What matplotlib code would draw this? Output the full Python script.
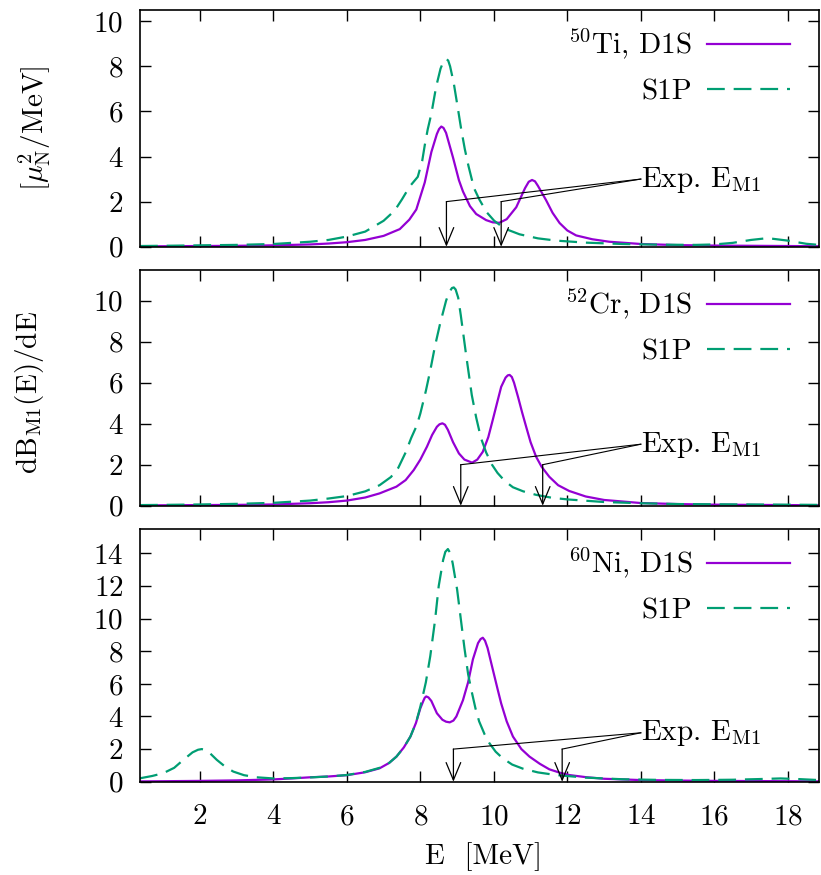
import numpy as np
import matplotlib
matplotlib.use("Agg")
import matplotlib.pyplot as plt

plt.rcParams['font.family'] = 'cmr10'
plt.rcParams['mathtext.fontset'] = 'cm'
plt.rcParams['axes.formatter.use_mathtext'] = True
plt.rcParams['axes.unicode_minus'] = False
plt.rcParams['font.size'] = 21

# --- 50Ti ---
ti_d1s_x = [0.37, 1, 2, 3, 4, 5, 5.5, 6, 6.5, 7, 7.44, 7.7, 7.89, 8.12, 8.3, 8.45, 8.51, 8.57, 8.63, 8.7,
            8.89, 9.05, 9.16, 9.35, 9.52, 9.79, 9.97, 10.15, 10.35, 10.61, 10.85, 10.95, 11.04, 11.12, 11.2,
            11.42, 11.6, 11.79, 12.0, 12.24, 12.68, 13.14, 14, 15, 16, 17, 18, 18.85]
ti_d1s_y = [0.02, 0.02, 0.03, 0.04, 0.06, 0.1, 0.14, 0.2, 0.3, 0.48, 0.78, 1.2, 1.65, 2.85, 4.2, 5.0, 5.22, 5.33, 5.27, 5.05,
            3.95, 2.95, 2.45, 1.8, 1.45, 1.18, 1.08, 1.06, 1.22, 1.75, 2.6, 2.88, 2.96, 2.9, 2.7,
            2.07, 1.5, 1.05, 0.72, 0.5, 0.33, 0.22, 0.12, 0.07, 0.05, 0.04, 0.03, 0.02]
ti_s1p_x = [0.37, 1, 2, 3, 4, 5, 5.5, 6, 6.5, 7, 7.3, 7.5, 7.71, 7.93, 8.05, 8.12, 8.2, 8.3, 8.43, 8.55, 8.63, 8.71,
            8.76, 8.81, 8.91, 9.01, 9.11, 9.21, 9.31, 9.46, 9.61, 9.81, 10.01, 10.3, 10.7, 11.2, 11.7,
            12.5, 13.5, 14.5, 15.5, 16, 16.5, 17, 17.45, 18, 18.5, 18.85]
ti_s1p_y = [0.03, 0.04, 0.06, 0.08, 0.12, 0.22, 0.3, 0.45, 0.67, 1.15, 1.6, 2.1, 2.67, 3.1, 3.8, 4.5, 5.2, 5.9, 7.1, 7.9, 8.22, 8.33,
            8.25, 8.0, 7.25, 6.25, 5.23, 4.33, 3.58, 2.6, 2.08, 1.52, 1.15, 0.8, 0.55, 0.37, 0.27,
            0.18, 0.12, 0.09, 0.08, 0.1, 0.17, 0.3, 0.38, 0.27, 0.13, 0.08]

# --- 52Cr ---
cr_d1s_x = [0.37, 1, 2, 3, 4, 5, 5.5, 6, 6.5, 6.89, 7.35, 7.6, 7.82, 8.0, 8.18, 8.32, 8.45, 8.52, 8.6, 8.67, 8.75,
            8.89, 9.05, 9.2, 9.41, 9.55, 9.7, 9.85, 9.97, 10.1, 10.2, 10.32, 10.38, 10.43, 10.49, 10.55, 10.66,
            10.77, 10.88, 11.0, 11.15, 11.3, 11.51, 11.75, 12.05, 12.5, 13, 14, 15, 16, 17, 18, 18.85]
cr_d1s_y = [0.02, 0.02, 0.03, 0.04, 0.06, 0.12, 0.17, 0.25, 0.4, 0.6, 0.93, 1.25, 1.74, 2.25, 2.88, 3.45, 3.85, 3.97, 4.02, 3.95, 3.7,
            3.1, 2.55, 2.25, 2.1, 2.25, 2.63, 3.35, 4.18, 5.1, 5.8, 6.25, 6.36, 6.38, 6.28, 6.0, 5.3,
            4.55, 3.85, 3.1, 2.39, 1.9, 1.41, 1.0, 0.72, 0.45, 0.28, 0.13, 0.08, 0.05, 0.04, 0.03, 0.02]
cr_s1p_x = [0.37, 1, 2, 3, 4, 5, 5.5, 6, 6.5, 6.89, 7.2, 7.4, 7.6, 7.75, 7.9, 8.0, 8.15, 8.27, 8.4, 8.54,
            8.7, 8.78, 8.86, 8.91, 8.96, 9.03, 9.1, 9.25, 9.4, 9.52, 9.65, 9.79, 9.95, 10.1, 10.3, 10.52, 10.8,
            11.15, 11.6, 12.05, 13, 14, 15, 16, 17, 18, 18.85]
cr_s1p_y = [0.03, 0.04, 0.06, 0.09, 0.14, 0.25, 0.35, 0.47, 0.7, 1.0, 1.4, 1.85, 2.6, 3.3, 3.9, 4.5, 5.6, 6.6, 7.8, 8.9,
            10.0, 10.4, 10.62, 10.65, 10.55, 10.15, 9.3, 7.3, 5.4, 4.3, 3.3, 2.6, 2.0, 1.6, 1.2, 0.9, 0.7,
            0.53, 0.38, 0.3, 0.18, 0.12, 0.08, 0.07, 0.06, 0.05, 0.04]

# --- 60Ni ---
ni_d1s_x = [0.37, 1, 2, 3, 4, 4.5, 5, 5.5, 6, 6.5, 6.89, 7.15, 7.35, 7.55, 7.73, 7.88, 8.0, 8.08, 8.12, 8.16, 8.22,
            8.3, 8.45, 8.6, 8.7, 8.8, 8.9, 8.98, 9.16, 9.3, 9.43, 9.57, 9.64, 9.7, 9.76, 9.83, 9.97, 10.1, 10.2, 10.35,
            10.52, 10.75, 10.97, 11.25, 11.51, 11.8, 12.05, 12.5, 13, 14, 15, 16, 17, 18, 18.85]
ni_d1s_y = [0.02, 0.03, 0.05, 0.08, 0.14, 0.2, 0.27, 0.32, 0.4, 0.58, 0.82, 1.15, 1.54, 2.1, 2.77, 3.6, 4.5, 4.95, 5.15, 5.23, 5.17,
            4.95, 4.2, 3.8, 3.68, 3.64, 3.75, 4.0, 5.0, 6.1, 7.5, 8.5, 8.75, 8.83, 8.65, 8.2, 6.9, 5.7, 4.8, 3.7,
            2.77, 2.0, 1.54, 1.1, 0.76, 0.55, 0.41, 0.28, 0.18, 0.1, 0.07, 0.05, 0.04, 0.03, 0.02]
ni_s1p_x = [0.37, 0.7, 1.0, 1.3, 1.55, 1.8, 1.95, 2.05, 2.15, 2.25, 2.46, 2.7, 2.91, 3.2, 3.54, 4.0, 4.5, 5.08, 5.5,
            6.0, 6.5, 6.89, 7.15, 7.35, 7.55, 7.73, 7.88, 8.0, 8.15, 8.27, 8.4, 8.5, 8.62, 8.68, 8.75, 8.82,
            8.88, 9.0, 9.1, 9.2, 9.3, 9.38, 9.5, 9.6, 9.75, 9.88, 10.05, 10.24, 10.5, 10.79, 11.2,
            11.69, 12.5, 13.5, 14.5, 15.5, 16.5, 17.2, 17.8, 18.3, 18.85]
ni_s1p_y = [0.21, 0.35, 0.52, 0.85, 1.34, 1.8, 1.96, 2.0, 1.95, 1.8, 1.34, 0.9, 0.62, 0.4, 0.27, 0.2, 0.22, 0.27, 0.32,
            0.41, 0.6, 0.85, 1.15, 1.54, 2.1, 2.77, 3.6, 4.6, 6.1, 7.7, 9.9, 12.0, 13.6, 14.1, 14.27, 14.0,
            13.4, 11.8, 10.0, 8.2, 6.6, 5.7, 4.5, 3.7, 2.9, 2.36, 1.84, 1.44, 1.05, 0.8, 0.57,
            0.41, 0.25, 0.15, 0.11, 0.1, 0.12, 0.16, 0.2, 0.16, 0.1]

nuclei = [r'$^{50}$Ti, D1S', r'$^{52}$Cr, D1S', r'$^{60}$Ni, D1S']
exp_em1 = [[8.71, 10.2], [9.1, 11.33], [8.9, 11.86]]
ylims = [10.5, 11.5, 15.5]
yticks = [np.arange(0, 11, 2), np.arange(0, 11, 2), np.arange(0, 15, 2)]

curves = [(ti_d1s_x, ti_d1s_y, ti_s1p_x, ti_s1p_y),
          (cr_d1s_x, cr_d1s_y, cr_s1p_x, cr_s1p_y),
          (ni_d1s_x, ni_d1s_y, ni_s1p_x, ni_s1p_y)]

purple = '#9400d3'
green = '#009e73'

W, H = 821.0, 875.0
left, right = 140 / W, 819 / W
boxes = [(10, 246.7), (270, 505.7), (529, 781.7)]  # top, bottom in pixels

fig = plt.figure(figsize=(8.21, 8.75), dpi=100)

for i in range(3):
    top, bot = boxes[i]
    hpx = bot - top
    ax = fig.add_axes([left, 1 - bot / H, right - left, hpx / H])
    dx, dy, sx, sy = curves[i]
    ax.plot(dx, dy, color=purple, lw=1.6, label=nuclei[i], solid_joinstyle='round')
    ax.plot(sx, sy, color=green, lw=1.6, ls=(0, (8, 4)), label='S1P')

    # experimental M1 energies
    for xe in exp_em1[i]:
        ax.plot([14.0, xe, xe], [3.0, 2.0, 2.0], color='black', lw=0.8)
        ax.annotate('', xy=(xe, 0), xytext=(xe, 2.0),
                    arrowprops=dict(arrowstyle='->,head_length=0.6,head_width=0.25',
                                    color='black', lw=0.9, shrinkA=0, shrinkB=0))
    ax.annotate(r'Exp. E$_{\rm M1}$', xy=(14.0, 3.0), xytext=(0, -5.5),
                textcoords='offset points', ha='left', va='baseline')

    ax.set_xlim(0.37, 18.85)
    ax.set_ylim(0, ylims[i])
    ax.set_xticks(np.arange(2, 19, 2))
    ax.set_yticks(yticks[i])
    ax.tick_params(direction='in', top=True, right=True, length=8, width=1.0)
    ax.tick_params(axis='y', pad=12)
    ax.tick_params(axis='x', pad=16)
    if i < 2:
        ax.set_xticklabels([])
    for s in ax.spines.values():
        s.set_linewidth(1.2)

    ax.legend(loc='upper right', bbox_to_anchor=((790 - 140) / 679.0, 1 - 17 / hpx),
              frameon=False, markerfirst=False, handlelength=2.85,
              handletextpad=0.5, labelspacing=0.6, borderpad=0, borderaxespad=0)

fig.text(35 / W, 1 - 128 / H, r'[$\mu^2_{\rm N}$/MeV]', rotation=90, ha='center', va='center')
fig.text(30 / W, 1 - 392 / H, r'dB$_{\rm M1}$(E)/dE', rotation=90, ha='center', va='center')
fig.text(483 / W, 1 - 857 / H, 'E  [MeV]', ha='center', va='center')

plt.savefig('out.png', dpi=100)
